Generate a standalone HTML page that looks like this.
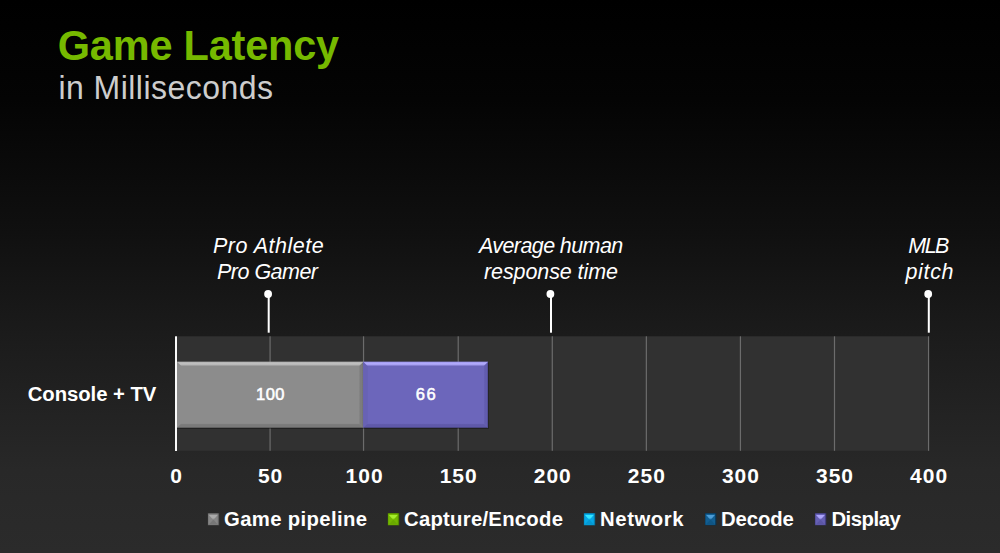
<!DOCTYPE html>
<html><head><meta charset="utf-8">
<style>
html,body{margin:0;padding:0;}
body{width:1000px;height:553px;overflow:hidden;background:linear-gradient(180deg,#000 0%,#040404 18%,#101010 42%,#1c1c1c 62%,#282828 85%,#2b2b2b 100%);}
svg{display:block;}
text{font-family:"Liberation Sans",sans-serif;}
</style></head><body>
<svg width="1000" height="553" viewBox="0 0 1000 553">
<defs><linearGradient id="tg" x1="0" y1="0" x2="0" y2="1"><stop offset="0" stop-color="#acacac"/><stop offset="0.25" stop-color="#bebebe"/><stop offset="0.55" stop-color="#bebebe"/><stop offset="1" stop-color="#8c8c8c"/></linearGradient>
<linearGradient id="bg" x1="0" y1="0" x2="0" y2="1"><stop offset="0" stop-color="#8c8c8c"/><stop offset="0.3" stop-color="#7a7a7a"/><stop offset="0.75" stop-color="#7a7a7a"/><stop offset="1" stop-color="#5a5a5a"/></linearGradient>
<linearGradient id="rg" x1="0" y1="0" x2="1" y2="0"><stop offset="0" stop-color="#8c8c8c"/><stop offset="0.3" stop-color="#7c7c7c"/><stop offset="0.7" stop-color="#7c7c7c"/><stop offset="1" stop-color="#6a6a6a"/></linearGradient>
<linearGradient id="tp" x1="0" y1="0" x2="0" y2="1"><stop offset="0" stop-color="#9690e6"/><stop offset="0.25" stop-color="#b0a9fb"/><stop offset="0.55" stop-color="#b0a9fb"/><stop offset="1" stop-color="#6c66bb"/></linearGradient>
<linearGradient id="bp" x1="0" y1="0" x2="0" y2="1"><stop offset="0" stop-color="#6c66bb"/><stop offset="0.3" stop-color="#5f59a9"/><stop offset="0.75" stop-color="#5f59a9"/><stop offset="1" stop-color="#45407a"/></linearGradient>
<linearGradient id="rp" x1="0" y1="0" x2="1" y2="0"><stop offset="0" stop-color="#6c66bb"/><stop offset="0.3" stop-color="#625cae"/><stop offset="0.7" stop-color="#625cae"/><stop offset="1" stop-color="#4c4788"/></linearGradient>
<linearGradient id="s1" x1="0" y1="0" x2="0" y2="1"><stop offset="0" stop-color="#ababab"/><stop offset="0.6" stop-color="#ababab"/><stop offset="1" stop-color="#868686"/></linearGradient>
<linearGradient id="s2" x1="0" y1="0" x2="0" y2="1"><stop offset="0" stop-color="#a6ee2c"/><stop offset="0.6" stop-color="#a6ee2c"/><stop offset="1" stop-color="#74b800"/></linearGradient>
<linearGradient id="s3" x1="0" y1="0" x2="0" y2="1"><stop offset="0" stop-color="#34e6ff"/><stop offset="0.6" stop-color="#34e6ff"/><stop offset="1" stop-color="#06a8e6"/></linearGradient>
<linearGradient id="s4" x1="0" y1="0" x2="0" y2="1"><stop offset="0" stop-color="#4c9cd6"/><stop offset="0.6" stop-color="#4c9cd6"/><stop offset="1" stop-color="#125e92"/></linearGradient>
<linearGradient id="s5" x1="0" y1="0" x2="0" y2="1"><stop offset="0" stop-color="#aca4fa"/><stop offset="0.6" stop-color="#aca4fa"/><stop offset="1" stop-color="#6660b4"/></linearGradient></defs>
<rect x="176" y="336.3" width="753" height="114.5" fill="#313131"/>
<rect x="269.47" y="336.3" width="1.2" height="114.5" fill="#6c6c6c"/>
<rect x="362.94" y="336.3" width="1.2" height="114.5" fill="#6c6c6c"/>
<rect x="457.61" y="336.3" width="1.2" height="114.5" fill="#6c6c6c"/>
<rect x="551.68" y="336.3" width="1.2" height="114.5" fill="#6c6c6c"/>
<rect x="645.75" y="336.3" width="1.2" height="114.5" fill="#6c6c6c"/>
<rect x="739.82" y="336.3" width="1.2" height="114.5" fill="#6c6c6c"/>
<rect x="833.89" y="336.3" width="1.2" height="114.5" fill="#6c6c6c"/>
<rect x="927.96" y="336.3" width="1.2" height="114.5" fill="#6c6c6c"/>
<rect x="175" y="336.3" width="2" height="114.7" fill="#fafafa"/>
<rect x="267.7" y="294" width="2" height="38.7" fill="#fff"/><circle cx="268.1" cy="294" r="3.9" fill="#fff"/>
<rect x="550.0" y="294" width="2" height="38.7" fill="#fff"/><circle cx="550.4" cy="294" r="3.9" fill="#fff"/>
<rect x="927.8000000000001" y="294" width="2" height="38.7" fill="#fff"/><circle cx="928.2" cy="294" r="3.9" fill="#fff"/>
<rect x="177" y="361.8" width="186.3" height="66" fill="#8c8c8c"/><polygon points="363.3,361.8 358.8,366.3 358.8,423.3 363.3,427.8" fill="url(#rg)"/><polygon points="177,361.8 363.3,361.8 358.8,366.3 181.5,366.3" fill="url(#tg)"/><polygon points="177,427.8 363.3,427.8 358.8,423.3 181.5,423.3" fill="url(#bg)"/>
<rect x="363.3" y="361.8" width="124.7" height="66" fill="#6c66bb"/><polygon points="363.3,361.8 367.8,366.3 367.8,423.3 363.3,427.8" fill="#6862b4"/><polygon points="488.0,361.8 483.5,366.3 483.5,423.3 488.0,427.8" fill="url(#rp)"/><polygon points="363.3,361.8 488.0,361.8 483.5,366.3 367.8,366.3" fill="url(#tp)"/><polygon points="363.3,427.8 488.0,427.8 483.5,423.3 367.8,423.3" fill="url(#bp)"/>
<rect x="177" y="427.8" width="311.5" height="1" fill="#000" opacity="0.4"/><rect x="488" y="362.5" width="0.8" height="66" fill="#000" opacity="0.3"/>
<rect x="207.8" y="513.1" width="11.4" height="12.3" fill="#4c4c4c"/><rect x="208.3" y="513.6" width="10.4" height="11.3" fill="#6c6c6c"/><rect x="208.3" y="513.7" width="9.5" height="11.100000000000001" fill="#868686"/><polygon points="208.8,524.6 217.8,524.6 213.4,519.4" fill="#767676"/><polygon points="209.0,515.0 217.70000000000002,515.0 213.3,519.9" fill="url(#s1)"/>
<rect x="387.79999999999995" y="513.1" width="11.4" height="12.3" fill="#4c7800"/><rect x="388.29999999999995" y="513.6" width="10.4" height="11.3" fill="#5c9300"/><rect x="388.29999999999995" y="513.7" width="9.5" height="11.100000000000001" fill="#74b800"/><polygon points="388.79999999999995,524.6 397.79999999999995,524.6 393.4,519.4" fill="#6aa900"/><polygon points="388.99999999999994,515.0 397.69999999999993,515.0 393.29999999999995,519.9" fill="url(#s2)"/>
<rect x="583.8" y="513.1" width="11.4" height="12.3" fill="#066f98"/><rect x="584.3" y="513.6" width="10.4" height="11.3" fill="#0a80b0"/><rect x="584.3" y="513.7" width="9.5" height="11.100000000000001" fill="#06a8e6"/><polygon points="584.8,524.6 593.8,524.6 589.4,519.4" fill="#0598d2"/><polygon points="585.0,515.0 593.6999999999999,515.0 589.3,519.9" fill="url(#s3)"/>
<rect x="705.0" y="513.1" width="11.4" height="12.3" fill="#0b324e"/><rect x="705.5" y="513.6" width="10.4" height="11.3" fill="#0c3f63"/><rect x="705.5" y="513.7" width="9.5" height="11.100000000000001" fill="#125e92"/><polygon points="706.0,524.6 715.0,524.6 710.6,519.4" fill="#0f5584"/><polygon points="706.2,515.0 714.9,515.0 710.5,519.9" fill="url(#s4)"/>
<rect x="814.9" y="513.1" width="11.4" height="12.3" fill="#38346a"/><rect x="815.4" y="513.6" width="10.4" height="11.3" fill="#48448a"/><rect x="815.4" y="513.7" width="9.5" height="11.100000000000001" fill="#6660b4"/><polygon points="815.9,524.6 824.9,524.6 820.5,519.4" fill="#5c56a6"/><polygon points="816.1,515.0 824.8,515.0 820.4,519.9" fill="url(#s5)"/>
<text transform="translate(57.8 60.4) scale(1 1.045)" font-size="41.5" letter-spacing="-0.218" fill="#76b900" text-anchor="start" style="font-weight:bold">Game Latency</text>
<text transform="translate(58.4 98.6) scale(1 1.03)" font-size="32" letter-spacing="0.464" fill="#cdcdcd" text-anchor="start" style="">in Milliseconds</text>
<text transform="translate(213.0 252.8) scale(1 1)" font-size="21.5" letter-spacing="0.52" fill="#fff" text-anchor="start" style="font-style:italic">Pro Athlete</text>
<text transform="translate(217.0 278.8) scale(1 1)" font-size="21.5" letter-spacing="-0.513" fill="#fff" text-anchor="start" style="font-style:italic">Pro Gamer</text>
<text transform="translate(479.0 252.8) scale(1 1)" font-size="21.5" letter-spacing="-0.6" fill="#fff" text-anchor="start" style="font-style:italic">Average human</text>
<text transform="translate(484.0 278.8) scale(1 1)" font-size="21.5" letter-spacing="-0.092" fill="#fff" text-anchor="start" style="font-style:italic">response time</text>
<text transform="translate(908.3 252.8) scale(1 1)" font-size="21.5" letter-spacing="-1.55" fill="#fff" text-anchor="start" style="font-style:italic">MLB</text>
<text transform="translate(905.4 278.8) scale(1 1)" font-size="21.5" letter-spacing="0.675" fill="#fff" text-anchor="start" style="font-style:italic">pitch</text>
<text transform="translate(27.7 400.5) scale(1 1)" font-size="20.3" letter-spacing="-0.036" fill="#fff" text-anchor="start" style="font-weight:bold">Console + TV</text>
<text transform="translate(255.9 399.5) scale(1 1)" font-size="16.5" letter-spacing="0.55" fill="#fff" text-anchor="start" style="stroke:#fff;stroke-width:0.55px">100</text>
<text transform="translate(415.8 399.5) scale(1 1)" font-size="16.5" letter-spacing="1.4" fill="#fff" text-anchor="start" style="stroke:#fff;stroke-width:0.55px">66</text>
<text transform="translate(224.0 525.6) scale(1 1)" font-size="20.3" letter-spacing="0.367" fill="#fff" text-anchor="start" style="font-weight:bold">Game pipeline</text>
<text transform="translate(404.0 525.6) scale(1 1)" font-size="20.3" letter-spacing="0.262" fill="#fff" text-anchor="start" style="font-weight:bold">Capture/Encode</text>
<text transform="translate(600.0 525.6) scale(1 1)" font-size="20.3" letter-spacing="0.6" fill="#fff" text-anchor="start" style="font-weight:bold">Network</text>
<text transform="translate(721.0 525.6) scale(1 1)" font-size="20.3" letter-spacing="-0.1" fill="#fff" text-anchor="start" style="font-weight:bold">Decode</text>
<text transform="translate(831.4 525.6) scale(1 1)" font-size="20.3" letter-spacing="-0.45" fill="#fff" text-anchor="start" style="font-weight:bold">Display</text>
<text transform="translate(176.5 483.3) scale(1 1)" font-size="21" letter-spacing="1.0" fill="#fff" text-anchor="middle" style="font-weight:bold">0</text>
<text transform="translate(270.57 483.3) scale(1 1)" font-size="21" letter-spacing="1.0" fill="#fff" text-anchor="middle" style="font-weight:bold">50</text>
<text transform="translate(364.64 483.3) scale(1 1)" font-size="21" letter-spacing="1.0" fill="#fff" text-anchor="middle" style="font-weight:bold">100</text>
<text transform="translate(458.71 483.3) scale(1 1)" font-size="21" letter-spacing="1.0" fill="#fff" text-anchor="middle" style="font-weight:bold">150</text>
<text transform="translate(552.78 483.3) scale(1 1)" font-size="21" letter-spacing="1.0" fill="#fff" text-anchor="middle" style="font-weight:bold">200</text>
<text transform="translate(646.8499999999999 483.3) scale(1 1)" font-size="21" letter-spacing="1.0" fill="#fff" text-anchor="middle" style="font-weight:bold">250</text>
<text transform="translate(740.92 483.3) scale(1 1)" font-size="21" letter-spacing="1.0" fill="#fff" text-anchor="middle" style="font-weight:bold">300</text>
<text transform="translate(834.99 483.3) scale(1 1)" font-size="21" letter-spacing="1.0" fill="#fff" text-anchor="middle" style="font-weight:bold">350</text>
<text transform="translate(929.06 483.3) scale(1 1)" font-size="21" letter-spacing="1.0" fill="#fff" text-anchor="middle" style="font-weight:bold">400</text>
</svg>
</body></html>
